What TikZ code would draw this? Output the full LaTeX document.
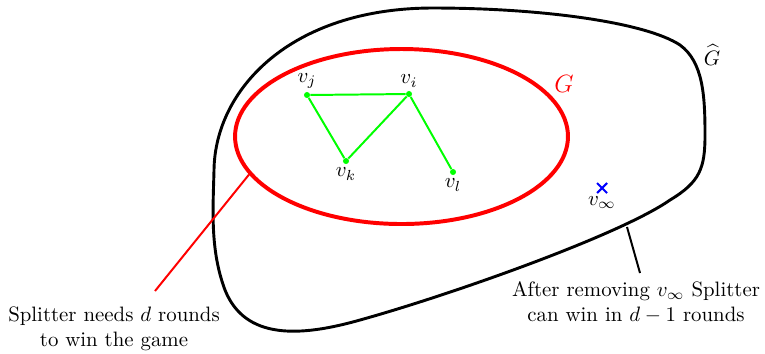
\documentclass[tikz,border=0pt]{standalone}
\usetikzlibrary{shapes.geometric,shapes.misc}
\begin{document}
\begin{tikzpicture}[x=0.48pt,y=-0.48pt,
  vertex/.style={circle,fill=green,inner sep=0pt,minimum size=2.9pt},
  edge/.style={green,line width=0.95pt},
  every label/.style={inner sep=1.5pt}]
\useasboundingbox (0,0) rectangle (765,353);

\draw[line width=1.4pt] (433,8) .. controls (540,8) and (645,22) .. (680,45)
  .. controls (703,62) and (705,95) .. (705,135)
  .. controls (705,168) and (700,182) .. (670,200)
  .. controls (620,235) and (450,295) .. (360,320)
  .. controls (300,337) and (245,340) .. (225,290)
  .. controls (210,250) and (213,210) .. (214,170)
  .. controls (215,90) and (290,8) .. cycle;
\node (Ghat) at (712,55) {$\widehat{G}$};

\node[ellipse,draw=red,line width=1.9pt,minimum width=159.8pt,minimum height=84pt] (G) at (401.5,136.5) {};
\node[red] (Glabel) at (564,84) {\large $G$};

\node[vertex,label=above:$v_j$] (vj) at (307,95) {};
\node[vertex,label=above:$v_i$] (vi) at (409,94) {};
\node[vertex,label=below:$v_k$] (vk) at (346,161) {};
\node[vertex,label=below:$v_l$] (vl) at (453,172) {};
\draw[edge] (vj) -- (vi);
\draw[edge] (vj) -- (vk);
\draw[edge] (vk) -- (vi);
\draw[edge] (vi) -- (vl);

\node[cross out,draw=blue,line width=1pt,inner sep=0pt,minimum size=3.8pt,label=below:$v_\infty$] (vinf) at (602,188) {};

\node[align=center] (split) at (114,329) {Splitter needs $d$ rounds\\to win the game};
\coordinate (splitend) at (155,291);
\draw[red,line width=0.95pt] (G.194) -- (splitend);

\node[align=center] (after) at (636,302) {After removing $v_\infty$ Splitter\\can win in $d-1$ rounds};
\coordinate (hatpt) at (627,227);
\coordinate (afterend) at (640,273);
\draw[line width=0.95pt] (hatpt) -- (afterend);
\end{tikzpicture}
\end{document}
